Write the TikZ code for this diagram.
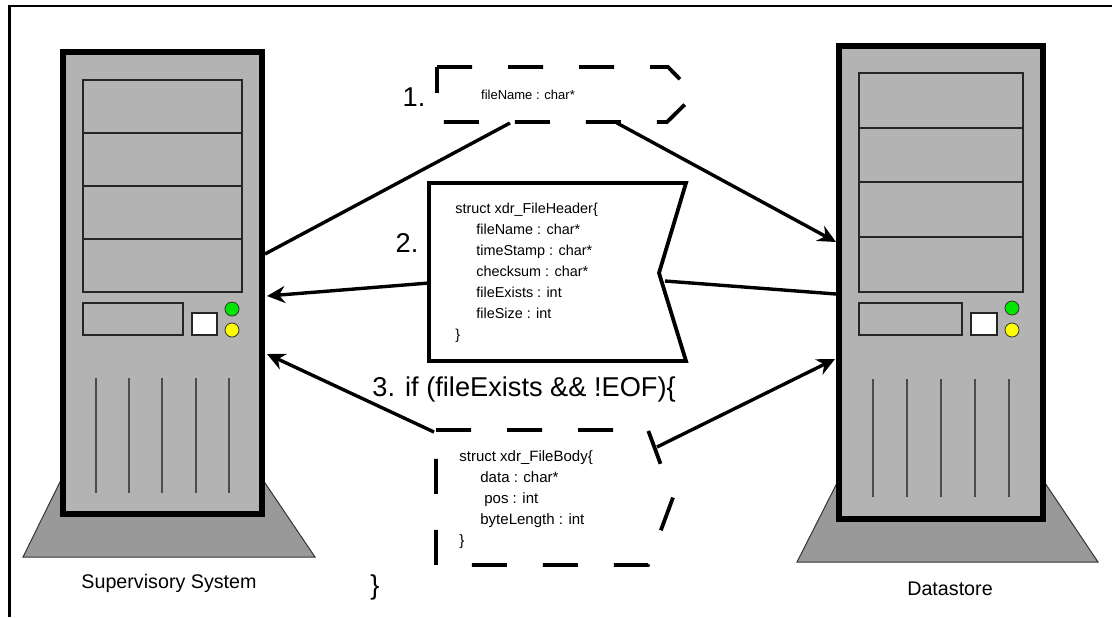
\documentclass[tikz,border=0pt]{standalone}
\usepackage{fontspec}
\setmainfont{Liberation Sans}
\usepackage{xcolor}
\usepackage{tikz}
\usetikzlibrary{arrows.meta}

\definecolor{casegray}{HTML}{B3B3B3}
\definecolor{basegray}{HTML}{999999}
\definecolor{ledgreen}{HTML}{00E600}
\definecolor{ledyellow}{HTML}{FFFF00}

\begin{document}
\begin{tikzpicture}[x=0.5pt, y=-0.5pt,
        case/.style={fill=casegray, draw=black, line width=2.75pt},
        stand/.style={fill=basegray, draw=black!80, line width=0.5pt},
        bay/.style={draw=black!85, line width=0.6pt},
        vent/.style={draw=black!70, line width=0.75pt},
        led/.style={draw=black!80, line width=0.4pt},
        msg/.style={draw=black, line width=1.9pt},
        msgdash/.style={msg, dash pattern=on 17.5pt off 18pt},
        wire/.style={line width=1.7pt},
        sendarrow/.style={wire, -{Stealth[length=9pt, width=8.5pt, inset=3pt]}},
        caption/.style={font=\fontsize{9.85pt}{12pt}\selectfont},
        stepnum/.style={font=\fontsize{13.6pt}{16pt}\selectfont},
        fields/.style={align=left, inner sep=0pt, anchor=north west}]
        \useasboundingbox (0,0) rectangle (1112,617);

        % outer frame (open to the right and bottom)
        \draw[line width=1.2pt] (9.5,617) -- (9.5,6) -- (1112,6);

        % Supervisory System tower
        \draw[stand] (23,557) -- (61,480) -- (263,480) -- (315,557) -- cycle; % stand
        \draw[case] (63,52) rectangle (262,514);                              % case
        \draw[bay, fill=casegray] (83,80) rectangle (242,292);                 % drive bays
        \foreach \y in {133,186,239}
            \draw[bay] (83,\y) -- (242,\y);
        \draw[bay] (83,303) rectangle (183,335);                               % floppy
        \draw[bay, fill=white] (192,313) rectangle (217,335);                  % button
        \draw[led, fill=ledgreen]  (232,309) circle (7);
        \draw[led, fill=ledyellow] (232,330) circle (7);
        \foreach \x in {96,129,162,196,229}
            \draw[vent] (\x,378) -- (\x,493);
        \node[caption] (sup) at (169,583) {Supervisory System};

        % Datastore tower
        \draw[stand] (797,562) -- (837,483) -- (1045,483) -- (1098,562) -- cycle;
        \draw[case] (839,46) rectangle (1043,519);
        \draw[bay, fill=casegray] (859,73) rectangle (1023,292);
        \foreach \y in {128,182,237}
            \draw[bay] (859,\y) -- (1023,\y);
        \draw[bay] (859,303) rectangle (962,335);
        \draw[bay, fill=white] (971,313) rectangle (997,335);
        \draw[led, fill=ledgreen]  (1012,308) circle (7);
        \draw[led, fill=ledyellow] (1012,330) circle (7);
        \foreach \x in {873,907,941,975,1009}
            \draw[vent] (\x,379) -- (\x,497);
        \node[caption] (ds) at (950,589) {Datastore};

        % where the wires meet the cases
        \coordinate (sup-a) at (265,254);
        \coordinate (sup-b) at (267,296);
        \coordinate (sup-c) at (267,354);
        \coordinate (ds-a)  at (836,242);
        \coordinate (ds-b)  at (836,294);
        \coordinate (ds-c)  at (835,359);

        % 1. request
        \draw[msgdash] (437,67) -- (668,67) -- (695,94.5) -- (667,122) -- (437,122) -- cycle;
        \node[font=\fontsize{6.5pt}{8pt}\selectfont] (req) at (528,95) {fileName : char*};
        \node[stepnum] (n1) at (414,97) {1.};
        \coordinate (req-l) at (510,123);
        \coordinate (req-r) at (617,123);

        % 2. header
        \draw[msg] (429,183) -- (686,183) -- (659,273) -- (686,361) -- (429,361) -- cycle;
        \node[fields, font=\fontsize{7.2pt}{10.5pt}\selectfont] (hdr) at (455,203)
            {struct xdr\_FileHeader\{\\
             \hspace*{10.5pt}fileName : char*\\
             \hspace*{10.5pt}timeStamp : char*\\
             \hspace*{10.5pt}checksum : char*\\
             \hspace*{10.5pt}fileExists : int\\
             \hspace*{10.5pt}fileSize : int\\
             \}};
        \node[stepnum] (n2) at (407,243) {2.};
        \coordinate (hdr-l) at (429,283);
        \coordinate (hdr-r) at (665,281);

        % 3. body
        \node[stepnum, anchor=west, inner sep=0pt] (n3) at (372,389) {3. if (fileExists \&\& !EOF)\{};
        \draw[msgdash] (436,430) -- (648,430) -- (673,497.5) -- (648,565) -- (436,565) -- cycle;
        \node[fields, font=\fontsize{7.5pt}{10.5pt}\selectfont] (body) at (459,450)
            {struct xdr\_FileBody\{\\
             \hspace*{10.5pt}data : char*\\
             \hspace*{12.5pt}pos : int\\
             \hspace*{10.5pt}byteLength : int\\
             \}};
        \node[stepnum] (close) at (375,587) {\}};
        \coordinate (body-l) at (434,432);
        \coordinate (body-r) at (657,447);

        % wires
        \draw[wire] (req-l) -- (sup-a);
        \draw[sendarrow] (req-r) -- (ds-a);
        \draw[wire] (ds-b) -- (hdr-r);
        \draw[sendarrow] (hdr-l) -- (sup-b);
        \draw[sendarrow] (body-l) -- (sup-c);
        \draw[sendarrow] (body-r) -- (ds-c);
    \end{tikzpicture}
\end{document}
